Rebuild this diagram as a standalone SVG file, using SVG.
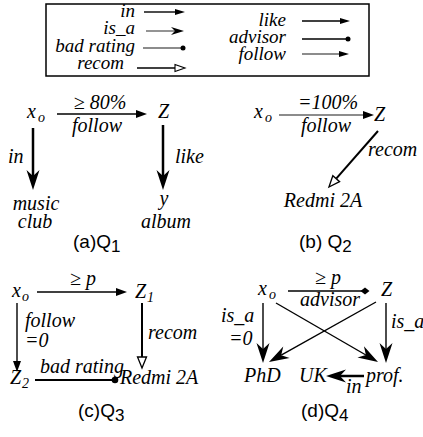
<svg xmlns="http://www.w3.org/2000/svg" width="423" height="437" viewBox="0 0 423 437">
<style>
text.t{font-family:"Liberation Serif","Times New Roman",serif;font-style:italic;font-size:20px;fill:#000}
text.lg{font-size:19px}
tspan.sub{font-size:14px}
text.cap{font-family:"Liberation Sans",Arial,sans-serif;font-style:normal;font-size:19px;fill:#000}
.ln{stroke:#000;fill:none;stroke-width:1.4}
.gr{stroke:#666}
.th{stroke-width:2.5}
.md{stroke-width:2}
</style>
<defs>
<marker id="tri" markerUnits="userSpaceOnUse" orient="auto" overflow="visible" refX="0" refY="0" markerWidth="12" markerHeight="10"><path d="M0,-4 L11,0 L0,4 Z" fill="#000"/></marker>
<marker id="triS" markerUnits="userSpaceOnUse" orient="auto" overflow="visible" refX="0" refY="0" markerWidth="12" markerHeight="10"><path d="M0,-3 L10,0 L0,3 Z" fill="#000"/></marker>
<marker id="open" markerUnits="userSpaceOnUse" orient="auto" overflow="visible" refX="0" refY="0" markerWidth="12" markerHeight="10"><path d="M0,-4.5 L11,0 L0,4.5 Z" fill="#fff" stroke="#000" stroke-width="1.3"/></marker>
<marker id="openS" markerUnits="userSpaceOnUse" orient="auto" overflow="visible" refX="0" refY="0" markerWidth="12" markerHeight="10"><path d="M0,-3.5 L10,0 L0,3.5 Z" fill="#fff" stroke="#000" stroke-width="1.1"/></marker>
<marker id="barb" markerUnits="userSpaceOnUse" orient="auto" overflow="visible" refX="6" refY="0" markerWidth="20" markerHeight="14"><path d="M0,-6.5 L20,0 L0,6.5 L6,0 Z" fill="#000"/></marker>
<marker id="barbS" markerUnits="userSpaceOnUse" orient="auto" overflow="visible" refX="4" refY="0" markerWidth="13" markerHeight="8"><path d="M0,-4 L13,0 L0,4 L4,0 Z" fill="#000"/></marker>
<marker id="dot" markerUnits="userSpaceOnUse" orient="auto" overflow="visible" refX="0" refY="0" markerWidth="8" markerHeight="8"><circle cx="0" cy="0" r="3.3" fill="#000"/></marker>
<marker id="dotS" markerUnits="userSpaceOnUse" orient="auto" overflow="visible" refX="0" refY="0" markerWidth="6" markerHeight="6"><circle cx="0" cy="0" r="2.5" fill="#000"/></marker>
<marker id="dia" markerUnits="userSpaceOnUse" orient="auto" overflow="visible" refX="0" refY="0" markerWidth="10" markerHeight="8"><path d="M-4.5,0 L0,-3.5 L4.5,0 L0,3.5 Z" fill="#000"/></marker>
</defs>

<g id="legend">
<rect x="46" y="4" width="323" height="72" fill="none" stroke="#000" stroke-width="1.5"/>
<text class="t lg" x="135" y="17" text-anchor="end">in</text>
<text class="t lg" x="135" y="34" text-anchor="end">is_a</text>
<text class="t lg" x="135" y="52" text-anchor="end">bad rating</text>
<text class="t lg" x="124" y="69" text-anchor="end">recom</text>
<text class="t lg" x="286" y="26" text-anchor="end">like</text>
<text class="t lg" x="286" y="43" text-anchor="end">advisor</text>
<text class="t lg" x="286" y="60" text-anchor="end">follow</text>
<line class="ln" x1="144" y1="12" x2="175" y2="12" marker-end="url(#triS)"/>
<line class="ln gr" x1="146" y1="31" x2="175" y2="31" marker-end="url(#barbS)"/>
<line class="ln gr" x1="143" y1="48" x2="183" y2="48" marker-end="url(#dotS)"/>
<line class="ln" x1="137" y1="68" x2="175" y2="68" marker-end="url(#openS)"/>
<line class="ln" x1="302" y1="21" x2="340" y2="21" marker-end="url(#triS)"/>
<line class="ln" x1="302" y1="39" x2="348" y2="39" marker-end="url(#dotS)"/>
<line class="ln gr" x1="302" y1="54" x2="339" y2="54" marker-end="url(#triS)"/>
</g>

<g id="connectors">
<line class="ln" x1="57" y1="114" x2="136" y2="114" marker-end="url(#tri)"/>
<line class="ln th" x1="33" y1="128" x2="33" y2="176" marker-end="url(#barb)"/>
<line class="ln th" x1="163" y1="125" x2="163" y2="176" marker-end="url(#barb)"/>
<line class="ln gr" x1="279" y1="115" x2="363" y2="115" marker-end="url(#tri)"/>
<line class="ln md" x1="378" y1="131" x2="336.2" y2="178.7" marker-end="url(#open)"/>
<line class="ln" x1="37" y1="292" x2="116" y2="292" marker-end="url(#tri)"/>
<line class="ln md" x1="142" y1="303" x2="142" y2="357" marker-end="url(#open)"/>
<line class="ln" x1="17" y1="303" x2="17" y2="361" marker-end="url(#tri)"/>
<line class="ln md" x1="35" y1="380" x2="115" y2="380" marker-end="url(#dot)"/>
<line class="ln" x1="288" y1="291" x2="365" y2="291" marker-end="url(#dia)"/>
<line class="ln" x1="263" y1="303" x2="263" y2="349" marker-end="url(#barb)"/>
<line class="ln" x1="386" y1="303" x2="386" y2="349" marker-end="url(#barb)"/>
<line class="ln" x1="276" y1="303" x2="365.9" y2="355" marker-end="url(#barb)"/>
<line class="ln" x1="376" y1="302" x2="281.2" y2="355.2" marker-end="url(#barb)"/>
<line class="ln th" x1="364" y1="376" x2="340" y2="376" marker-end="url(#barb)"/>
</g>

<g id="q1">
<g id="q1-xo"><text class="t" x="27" y="118">x<tspan class="sub" x="38" y="122">o</tspan></text></g>
<g id="q1-z"><text class="t" x="158" y="118">Z</text></g>
<g id="q1-music"><text class="t" x="36" y="210" text-anchor="middle">music</text><text class="t" x="35" y="228" text-anchor="middle">club</text></g>
<g id="q1-y"><text class="t" x="164" y="205" text-anchor="middle">y</text><text class="t" x="166" y="228" text-anchor="middle">album</text></g>
<text class="t" x="100" y="109" text-anchor="middle">≥ 80%</text>
<text class="t" x="97" y="132" text-anchor="middle">follow</text>
<text class="t" x="8" y="163">in</text>
<text class="t" x="175" y="163">like</text>
<text class="cap" x="73" y="248">(a)Q<tspan font-size="17" dy="4">1</tspan></text>
</g>

<g id="q2">
<g id="q2-xo"><text class="t" x="254" y="118">x<tspan class="sub" x="265" y="122">o</tspan></text></g>
<g id="q2-z"><text class="t" x="374" y="121">Z</text></g>
<g id="q2-redmi"><text class="t" x="323" y="207" text-anchor="middle">Redmi 2A</text></g>
<text class="t" x="328" y="109" text-anchor="middle">=100%</text>
<text class="t" x="326" y="132" text-anchor="middle">follow</text>
<text class="t" x="368" y="156">recom</text>
<text class="cap" x="299" y="248">(b) Q<tspan font-size="17" dy="4">2</tspan></text>
</g>

<g id="q3">
<g id="q3-xo"><text class="t" x="12" y="297">x<tspan class="sub" x="22" y="301">o</tspan></text></g>
<g id="q3-z1"><text class="t" x="135" y="298">Z<tspan class="sub" x="147" y="302">1</tspan></text></g>
<g id="q3-z2"><text class="t" x="10" y="384">Z<tspan class="sub" x="22" y="388">2</tspan></text></g>
<g id="q3-redmi"><text class="t" x="120" y="384">Redmi 2A</text></g>
<text class="t" x="83" y="285" text-anchor="middle">≥ p</text>
<text class="t" x="148" y="339">recom</text>
<text class="t" x="25" y="327">follow</text>
<text class="t" x="25" y="347">=0</text>
<text class="t" x="40" y="373">bad rating</text>
<text class="cap" x="78" y="417">(c)Q<tspan font-size="17" dy="4">3</tspan></text>
</g>

<g id="q4">
<g id="q4-xo"><text class="t" x="258" y="295">x<tspan class="sub" x="269" y="299">o</tspan></text></g>
<g id="q4-z"><text class="t" x="381" y="296">Z</text></g>
<g id="q4-phd"><text class="t" x="244" y="382">PhD</text></g>
<g id="q4-uk"><text class="t" x="299" y="382">UK</text></g>
<g id="q4-prof"><text class="t" x="366" y="382">prof.</text></g>
<text class="t" x="328" y="284" text-anchor="middle">≥ p</text>
<text class="t" x="330" y="306" text-anchor="middle">advisor</text>
<text class="t" x="221" y="322">is_a</text>
<text class="t" x="229" y="345">=0</text>
<text class="t" x="391" y="328">is_a</text>
<text class="t" x="346" y="393">in</text>
<text class="cap" x="301" y="417">(d)Q<tspan font-size="17" dy="4">4</tspan></text>
</g>
</svg>
